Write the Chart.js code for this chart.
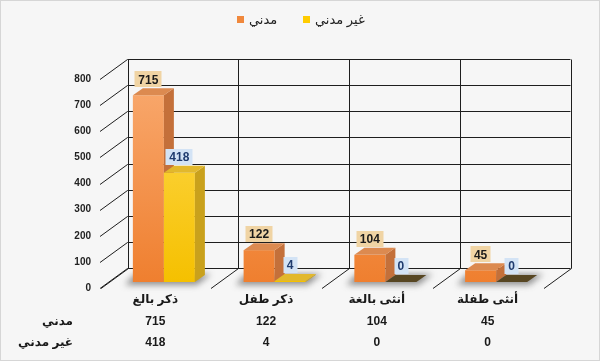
<!DOCTYPE html>
<html lang="ar">
<head>
<meta charset="utf-8">
<script src="https://cdn.jsdelivr.net/npm/chart.js@4.4.1/dist/chart.umd.min.js"></script>
<style>
    html, body { margin: 0; padding: 0; background: #f6f6f6; }
    canvas { display: block; }
</style>
</head>
<body>
<canvas id="casualtiesChart" width="600" height="361"></canvas>
<script>
// Data
const categories = ['ذكر بالغ', 'ذكر طفل', 'أنثى بالغة', 'أنثى طفلة'];
const seriesNames = ['مدني', 'غير مدني'];
const civilians = [715, 122, 104, 45];
const nonCivilians = [418, 4, 0, 0];
const yMin = 0;
const yMax = 800;
const yStep = 100;

// 3D look: wall depth, where the bars sit, bar thickness
const WALL = { x: 27.5, y: -20 };
const SHIFT = { x: 8.5, y: -6 };
const DEPTH = { x: 10, y: -7 };

const NUM_FONT = "'Liberation Sans', 'DejaVu Sans', sans-serif";

const styles = [
    { top: ['#f9aa70', '#ef7f2f'], side: '#c4703a', cap: '#dc8a50', flat: '#5a4822', labelBg: '#f0d4a4', labelColor: '#1a1a1a', legend: '#f0883c' },
    { top: ['#ffdb55', '#f5c000'], side: '#c9a11c', cap: '#e2b82c', flat: '#574622', labelBg: '#d3e3f5', labelColor: '#1f3b6e', legend: '#ffcc00' }
];

function seg(ctx, x1, y1, x2, y2) {
    ctx.beginPath();
    ctx.moveTo(x1, y1);
    ctx.lineTo(x2, y2);
    ctx.stroke();
}

function poly(ctx, pts, fill) {
    ctx.beginPath();
    ctx.moveTo(pts[0][0], pts[0][1]);
    pts.slice(1).forEach(p => ctx.lineTo(p[0], p[1]));
    ctx.closePath();
    ctx.fillStyle = fill;
    ctx.fill();
}

function frontFill(c, st) {
    const area = c.chart.chartArea;
    if (!area) return st.top[1];
    const g = c.chart.ctx.createLinearGradient(0, area.top, 0, area.bottom);
    g.addColorStop(0, st.top[0]);
    g.addColorStop(1, st.top[1]);
    return g;
}

const depthPlugin = {
    id: 'depth3d',
    beforeDraw(chart) {
        const { ctx, width, height } = chart;
        ctx.save();
        ctx.fillStyle = '#f6f6f6';
        ctx.fillRect(0, 0, width, height);
        ctx.strokeStyle = '#d6d6d6';
        ctx.strokeRect(0.5, 0.5, width - 1, height - 1);
        ctx.restore();
    },
    beforeDatasetsDraw(chart) {
        const { ctx, chartArea, scales: { x, y } } = chart;
        ctx.save();
        ctx.strokeStyle = '#1e1e1e';
        ctx.lineWidth = 1;
        const left = chartArea.left, right = chartArea.right;
        // back wall gridlines and left wall diagonals
        y.ticks.forEach(t => {
            const py = Math.round(y.getPixelForValue(t.value)) + 0.5;
            seg(ctx, left, py, left + WALL.x, py + WALL.y);
            seg(ctx, left + WALL.x, py + WALL.y, right + WALL.x, py + WALL.y);
        });
        // category dividers on the back wall and floor diagonals
        const step = (right - left) / categories.length;
        const y0 = Math.round(y.getPixelForValue(yMin)) + 0.5;
        const yTop = Math.round(y.getPixelForValue(yMax)) + 0.5;
        for (let i = 0; i <= categories.length; i++) {
            const bx = Math.round(left + i * step + WALL.x) + 0.5;
            seg(ctx, bx, y0 + WALL.y, bx, yTop + WALL.y);
            seg(ctx, bx - WALL.x, y0, bx, y0 + WALL.y);
        }
        // soft shadow on the floor under each bar group
        ctx.translate(SHIFT.x, SHIFT.y);
        ctx.filter = 'blur(3px)';
        const first = chart.getDatasetMeta(0).data;
        const last = chart.getDatasetMeta(chart.data.datasets.length - 1).data;
        first.forEach((bar, i) => {
            const gx0 = bar.x - bar.width / 2;
            const gx1 = last[i].x + last[i].width / 2;
            const b = bar.base;
            poly(ctx, [[gx0 - 8, b + 3], [gx1 + 2, b + 3], [gx1 + DEPTH.x + 6, b + DEPTH.y - 1], [gx0 + 2, b + DEPTH.y - 1]], 'rgba(60,60,60,0.55)');
        });
        ctx.restore();
    },
    beforeDatasetDraw() {
        // bars are drawn below, left to right, so side faces overlap correctly
        return false;
    },
    afterDatasetsDraw(chart) {
        const { ctx, chartArea } = chart;
        ctx.save();
        ctx.translate(SHIFT.x, SHIFT.y);
        chart.data.datasets.forEach((ds, di) => {
            const st = styles[di];
            chart.getDatasetMeta(di).data.forEach((bar, i) => {
                bar.draw(ctx, chartArea);
                const l = bar.x - bar.width / 2, r = bar.x + bar.width / 2;
                const t = bar.y, b = bar.base;
                poly(ctx, [[r, t], [r + DEPTH.x, t + DEPTH.y], [r + DEPTH.x, b + DEPTH.y], [r, b]], st.side);
                const flat = ds.data[i] === 0;
                poly(ctx, [[l, t], [l + DEPTH.x, t + DEPTH.y], [r + DEPTH.x, t + DEPTH.y], [r, t]], flat ? st.flat : st.cap);
            });
        });
        // value boxes
        ctx.font = 'bold 12px ' + NUM_FONT;
        ctx.textAlign = 'center';
        ctx.textBaseline = 'middle';
        chart.data.datasets.forEach((ds, di) => {
            const st = styles[di];
            chart.getDatasetMeta(di).data.forEach((bar, i) => {
                const txt = String(ds.data[i]);
                const w = ctx.measureText(txt).width + 7;
                const h = 16;
                const bottom = bar.y + DEPTH.y - 1;
                ctx.fillStyle = st.labelBg;
                ctx.fillRect(Math.round(bar.x - w / 2), Math.round(bottom - h), Math.round(w), h);
                ctx.fillStyle = st.labelColor;
                ctx.fillText(txt, bar.x, bottom - h / 2 + 1);
            });
        });
        ctx.restore();
    },
    afterDraw(chart) {
        const { ctx, chartArea } = chart;
        ctx.save();
        // table row labels
        ctx.font = 'bold 12px ' + NUM_FONT;
        ctx.fillStyle = '#1a1a1a';
        ctx.textAlign = 'right';
        ctx.textBaseline = 'middle';
        seriesNames.forEach((name, k) => {
            ctx.fillText(name, 73, chartArea.bottom + 1 + 10.8 + (k + 1) * 21.6);
        });
        // legend
        ctx.font = '13px ' + NUM_FONT;
        ctx.textAlign = 'left';
        const legendX = [237, 303];
        chart.data.datasets.forEach((ds, di) => {
            ctx.fillStyle = styles[di].legend;
            ctx.fillRect(legendX[di], 16, 7, 7);
            ctx.fillStyle = '#222';
            ctx.fillText(ds.label, legendX[di] + 12, 20);
        });
        ctx.restore();
    }
};

new Chart(document.getElementById('casualtiesChart'), {
    type: 'bar',
    data: {
        labels: categories.map((c, i) => [c, String(civilians[i]), String(nonCivilians[i])]),
        datasets: [{
            label: seriesNames[0],
            data: civilians,
            backgroundColor: c => frontFill(c, styles[0]),
            borderWidth: 0,
            barPercentage: 1,
            categoryPercentage: 0.56
        }, {
            label: seriesNames[1],
            data: nonCivilians,
            backgroundColor: c => frontFill(c, styles[1]),
            borderWidth: 0,
            barPercentage: 1,
            categoryPercentage: 0.56
        }]
    },
    options: {
        responsive: false,
        animation: false,
        layout: { padding: { top: 79, right: 57, left: 0, bottom: 0 } },
        plugins: {
            legend: { display: false },
            tooltip: { enabled: false }
        },
        scales: {
            x: {
                grid: { display: false, drawTicks: false },
                border: { display: false },
                ticks: {
                    color: '#1a1a1a',
                    font: { family: NUM_FONT, size: 12, weight: 'bold', lineHeight: 1.8 },
                    padding: 1,
                    autoSkip: false,
                    maxRotation: 0
                },
                afterFit: s => { s.height = 73; }
            },
            y: {
                min: yMin,
                max: yMax,
                grid: { display: false, drawTicks: false },
                border: { display: false },
                ticks: {
                    stepSize: yStep,
                    color: '#222',
                    font: { family: NUM_FONT, size: 10, weight: 'bold' },
                    padding: 9
                },
                afterFit: s => { s.width = 100; }
            }
        }
    },
    plugins: [depthPlugin]
});
</script>
</body>
</html>
